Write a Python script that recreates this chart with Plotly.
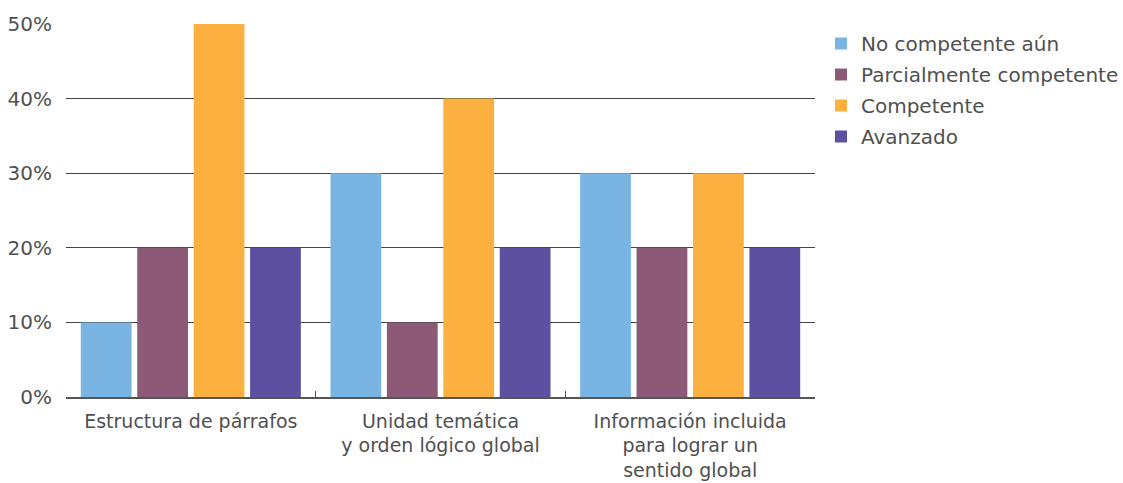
import plotly.graph_objects as go

categories = [
    "Estructura de párrafos",
    "Unidad temática<br>y orden lógico global",
    "Información incluida<br>para lograr un<br>sentido global",
]
series_names = ["No competente aún", "Parcialmente competente", "Competente", "Avanzado"]
no_competente = [0.10, 0.30, 0.30]
parcial = [0.20, 0.10, 0.20]
competente = [0.50, 0.40, 0.30]
avanzado = [0.20, 0.20, 0.20]
colors = ["#79B4E3", "#8C5A77", "#FBB040", "#5E50A1"]

fig = go.Figure()
for name, vals, col in zip(series_names, [no_competente, parcial, competente, avanzado], colors):
    fig.add_trace(go.Bar(name=name, x=categories, y=vals, legendgroup=name,
                         marker=dict(color=col, line=dict(width=0))))

font_family = "DejaVu Sans, sans-serif"
text_color = "#505050"
fig.update_layout(
    width=1123, height=483,
    margin=dict(l=66, r=308, t=24, b=86, pad=0, autoexpand=False),
    paper_bgcolor="white", plot_bgcolor="white",
    barmode="group", bargap=0.096, bargroupgap=0.1,
    font=dict(family=font_family, color=text_color),
    showlegend=True,
    legend=dict(x=1.008, y=1.0, xanchor="left", yanchor="top",
                font=dict(size=20, color=text_color), itemwidth=30,
                tracegroupgap=2, bgcolor="rgba(0,0,0,0)"),
    xaxis=dict(showline=True, linecolor="#555", linewidth=1.5,
               ticks="inside", tickson="boundaries", ticklen=6, tickcolor="#555",
               tickfont=dict(size=19, color=text_color), showgrid=False,
               ticklabelstandoff=6, automargin=False),
    yaxis=dict(range=[0, 0.5], tickvals=[0, 0.1, 0.2, 0.3, 0.4, 0.5], tickformat=".0%",
               showgrid=True, gridcolor="#444", gridwidth=1, zeroline=False,
               tickfont=dict(size=20, color=text_color), ticklabelstandoff=13,
               automargin=False),
)
fig.write_html("out.html")
